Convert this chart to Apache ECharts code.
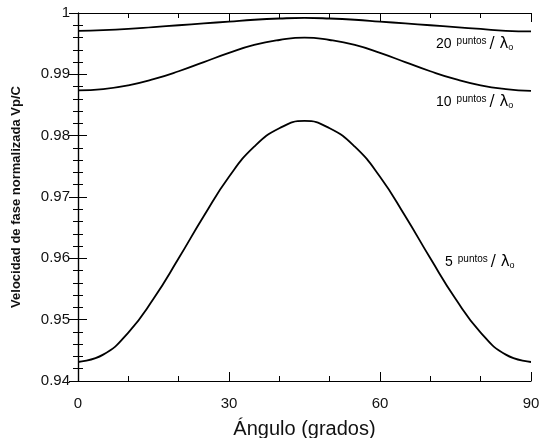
<!DOCTYPE html>
<html>
<head>
<meta charset="utf-8">
<script src="https://cdn.jsdelivr.net/npm/echarts@6/dist/echarts.min.js"></script>
<style>html,body{margin:0;padding:0;background:#fff;}#c{width:544px;height:438px;}</style>
</head>
<body>
<div id="c"></div>
<script>
var angles = [0,5,10,15,20,25,30,35,40,45,50,55,60,65,70,75,80,85,90];
var v5  = [0.9431,0.9443,0.9479,0.9534,0.9600,0.9669,0.9733,0.9782,0.9812,0.9824,0.9812,0.9782,0.9733,0.9669,0.9600,0.9534,0.9479,0.9443,0.9431];
var v10 = [0.9874,0.9876,0.9882,0.9892,0.9905,0.9920,0.9935,0.9948,0.9956,0.9960,0.9956,0.9948,0.9935,0.9920,0.9905,0.9892,0.9882,0.9876,0.9873];
var v20 = [0.9971,0.9972,0.9974,0.9977,0.9980,0.9983,0.9986,0.9989,0.9991,0.9992,0.9991,0.9989,0.9986,0.9983,0.9980,0.9977,0.9974,0.9971,0.9970];
var seriesNames = ['5', '10', '20'];
var xTitle = 'Ángulo (grados)';
var yTitle = 'Velocidad de fase normalizada Vp/C';

function pairs(v){ return angles.map(function(a,i){ return [a, v[i]]; }); }

var chart = echarts.init(document.getElementById('c'));
var font = 'Liberation Sans, Arial, sans-serif';
var axisCommon = {
  axisLine: {show: true, lineStyle: {color: '#000', width: 1.2}},
  splitLine: {show: false}
};
function lineSeries(name, v){
  return {
    name: name, type: 'line', data: pairs(v), smooth: 0.5, showSymbol: false,
    lineStyle: {color: '#000', width: 1.8}, xAxisIndex: 0, yAxisIndex: 0
  };
}
var rich = {
  n: {fontSize: 14, fontFamily: font, color: '#111', padding: [0, 5, 0, 0]},
  p: {fontSize: 10, fontFamily: font, color: '#111', verticalAlign: 'top', padding: [0, 3, 0, 0]},
  l: {fontSize: 15, fontFamily: 'DejaVu Sans, sans-serif', color: '#111'},
  s: {fontSize: 9, fontFamily: font, color: '#111', verticalAlign: 'bottom', padding: [7, 0, 0, 0]}
};
function lbl(num, x, y){
  return {type: 'text', left: x, top: y, style: {
    text: '{n|' + num + '}{p|puntos}{l|/ λ}{s|o}', rich: rich
  }};
}
chart.setOption({
  animation: false,
  backgroundColor: '#fff',
  grid: {left: 78, right: 13, top: 13, bottom: 57, containLabel: false, outerBoundsMode: 'none'},
  xAxis: [
    Object.assign({type: 'value', min: 0, max: 90, interval: 30,
      axisTick: {show: true, inside: true, length: 9, lineStyle: {color: '#000'}},
      minorTick: {show: true, splitNumber: 3, length: 5, lineStyle: {color: '#000'}},
      axisLabel: {fontSize: 15, fontFamily: font, color: '#111', margin: 15},
      name: xTitle, nameLocation: 'middle', nameGap: 38,
      nameTextStyle: {fontSize: 20, fontFamily: font, color: '#111'}
    }, axisCommon),
    Object.assign({type: 'value', min: 0, max: 90, interval: 30, position: 'top',
      axisTick: {show: true, inside: true, length: 9, lineStyle: {color: '#000'}},
      minorTick: {show: true, splitNumber: 3, length: 5, lineStyle: {color: '#000'}},
      axisLabel: {show: false}
    }, axisCommon)
  ],
  yAxis: [
    Object.assign({type: 'value', min: 0.94, max: 1, interval: 0.01,
      axisTick: {show: true, inside: true, length: 9, lineStyle: {color: '#000'}},
      minorTick: {show: true, splitNumber: 5, length: 5, lineStyle: {color: '#000'}},
      axisLabel: {fontSize: 15, fontFamily: font, color: '#111', margin: 8},
      name: yTitle, nameLocation: 'middle', nameGap: 55, nameRotate: 90,
      nameTextStyle: {fontSize: 13, fontWeight: 'bold', fontFamily: font, color: '#111'}
    }, axisCommon),
    Object.assign({type: 'value', min: 0.94, max: 1, interval: 0.01, position: 'right',
      axisTick: {show: true, inside: true, length: 9, lineStyle: {color: '#000'}},
      minorTick: {show: true, splitNumber: 5, length: 5, lineStyle: {color: '#000'}},
      axisLabel: {show: false}
    }, axisCommon)
  ],
  series: [lineSeries(seriesNames[0], v5), lineSeries(seriesNames[1], v10), lineSeries(seriesNames[2], v20)],
  graphic: [lbl(seriesNames[2], 436, 36), lbl(seriesNames[1], 436, 94), lbl(seriesNames[0], 445, 254)]
});
</script>
</body>
</html>
